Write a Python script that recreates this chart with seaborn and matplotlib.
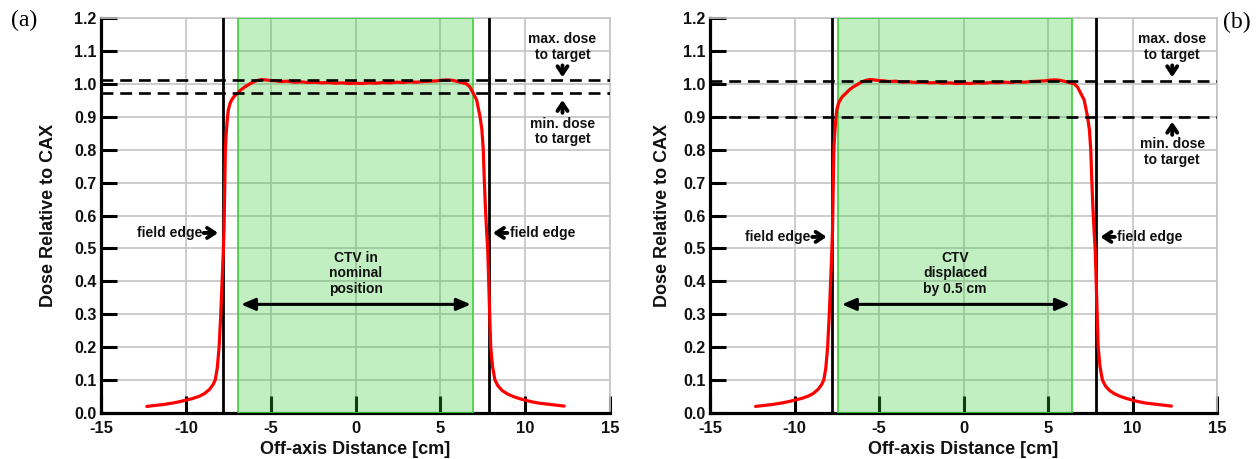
import matplotlib
matplotlib.use("Agg")
import matplotlib.pyplot as plt
import numpy as np
import pandas as pd
import seaborn as sns

# Measured dose profile (off-axis position in cm, dose relative to CAX)
position_cm = [-12.3, -11.8, -11.3, -10.8, -10.4, -10.0, -9.6, -9.2, -8.9, -8.6,
               -8.4, -8.27, -8.15, -8.04, -7.95, -7.87, -7.8, -7.75, -7.71, -7.67,
               -7.62, -7.56, -7.5, -7.4, -7.3, -7.15, -6.96, -6.75, -6.51, -6.25,
               -6.02, -5.8, -5.55, -5.3, -5.0, -4.7, -4.4, -4.0, -3.6, -3.2,
               -2.8, -2.4, -2.0, -1.6, -1.2, -0.8, -0.4, 0.0, 0.4, 0.8,
               1.2, 1.6, 2.0, 2.4, 2.8, 3.2, 3.6, 4.0, 4.4, 4.8,
               5.1, 5.4, 5.67, 5.95, 6.25, 6.55, 6.75, 6.94, 7.14, 7.34,
               7.45, 7.53, 7.59, 7.66, 7.73, 7.79, 7.84, 7.89, 7.97, 8.08,
               8.22, 8.4, 8.65, 8.95, 9.3, 9.65, 10.0, 10.4, 10.8, 11.3,
               11.8, 12.3]
relative_dose = [0.020, 0.023, 0.026, 0.030, 0.034, 0.039, 0.044, 0.051, 0.059, 0.072,
                 0.086, 0.100, 0.135, 0.200, 0.290, 0.390, 0.480, 0.555, 0.680, 0.800,
                 0.850, 0.890, 0.920, 0.940, 0.951, 0.962, 0.971, 0.982, 0.991, 0.999,
                 1.006, 1.010, 1.013, 1.012, 1.010, 1.009, 1.007, 1.008, 1.005, 1.006,
                 1.004, 1.005, 1.003, 1.004, 1.002, 1.003, 1.001, 1.002, 1.001, 1.003,
                 1.002, 1.004, 1.003, 1.005, 1.004, 1.006, 1.005, 1.007, 1.008, 1.009,
                 1.011, 1.012, 1.011, 1.008, 1.004, 1.000, 0.990, 0.971, 0.951, 0.900,
                 0.860, 0.800, 0.710, 0.620, 0.550, 0.500, 0.420, 0.330, 0.200, 0.140,
                 0.100, 0.082, 0.068, 0.058, 0.050, 0.044, 0.039, 0.034, 0.030, 0.027,
                 0.024, 0.021]

field_edges_cm = [-7.78, 7.86]
ctv_extent_a = [-6.9, 6.9]
ctv_extent_b = [-7.4, 6.4]
max_dose_a, min_dose_a = 1.012, 0.973
max_dose_b, min_dose_b = 1.010, 0.900
ctv_labels = ["CTV in\nnominal\nposition", "CTV\ndisplaced\nby 0.5 cm"]
panel_tags = ["(a)", "(b)"]
x_ticks = [-15, -10, -5, 0, 5, 10, 15]
y_ticks = [0.0, 0.1, 0.2, 0.3, 0.4, 0.5, 0.6, 0.7, 0.8, 0.9, 1.0, 1.1, 1.2]

profile = pd.DataFrame({"pos": position_cm, "dose": relative_dose})

sns.set_theme(style="white")
plt.rcParams["font.family"] = ["Liberation Sans", "DejaVu Sans"]
plt.rcParams["font.weight"] = "bold"

W, H = 1257, 459
fig = plt.figure(figsize=(W / 100, H / 100), dpi=100)
ax_a = fig.add_axes([101 / W, 46 / H, 509 / W, 395 / H])
ax_b = fig.add_axes([710 / W, 46 / H, 507 / W, 395 / H])

GRID = "#c4c4c4"
TXT = "#111111"

panels = [
    dict(ax=ax_a, ctv=ctv_extent_a, dmax=max_dose_a, dmin=min_dose_a, label=ctv_labels[0],
         fe_y=0.547, note_x=12.2, min_arrow=(0.951, 0.912), min_text=(0.878, 0.831),
         ctv_arrow=(-6.75, 6.8), ylab_x=-0.087),
    dict(ax=ax_b, ctv=ctv_extent_b, dmax=max_dose_b, dmin=min_dose_b, label=ctv_labels[1],
         fe_y=0.535, note_x=12.35, min_arrow=(0.885, 0.845), min_text=(0.817, 0.769),
         ctv_arrow=(-7.2, 6.3), ylab_x=-0.076),
]

arrow_open = dict(arrowstyle="->,head_length=0.45,head_width=0.3", lw=2.8,
                  color="black", shrinkA=0, shrinkB=0)

for p in panels:
    ax = p["ax"]
    ax.set_xlim(-15, 15)
    ax.set_ylim(0, 1.2)
    ax.set_axisbelow(True)
    ax.grid(True, color=GRID, lw=1.2)
    ax.set_xticks(x_ticks)
    ax.set_yticks(y_ticks)
    ax.set_xticklabels([str(t) for t in x_ticks])
    ax.set_yticklabels([f"{t:.1f}" for t in y_ticks])
    ax.tick_params(axis="both", direction="in", color="black", width=2.2,
                   labelcolor=TXT, bottom=True, left=True, top=False, right=False)
    ax.tick_params(axis="y", length=11.5, pad=3, labelsize=11.5)
    ax.tick_params(axis="x", length=12, pad=6, labelsize=12)
    for side in ("left", "bottom"):
        ax.spines[side].set_color("black")
        ax.spines[side].set_linewidth(2.3)
    for side in ("top", "right"):
        ax.spines[side].set_color(GRID)
        ax.spines[side].set_linewidth(1.2)

    # target volume (CTV)
    ax.axvspan(p["ctv"][0], p["ctv"][1], facecolor=(0.2, 0.8, 0.2, 0.3),
               edgecolor="#3ccf3c", lw=1.2, zorder=3)

    # field edges
    for fe in field_edges_cm:
        ax.axvline(fe, color="black", lw=2.0, zorder=4)

    # dose profile
    sns.lineplot(data=profile, x="pos", y="dose", ax=ax, color="red", lw=2.3,
                 zorder=5, sort=False, estimator=None)

    # max / min dose to target
    dash = dict(color="black", lw=1.9, dashes=(4.5, 2.6), zorder=6)
    ax.axhline(p["dmax"], **dash)
    ax.axhline(p["dmin"], **dash)

    ax.set_xlabel("Off-axis Distance [cm]", fontsize=13, fontweight="bold", color=TXT)
    ax.set_ylabel("Dose Relative to CAX", fontsize=13, fontweight="bold", color=TXT)
    ax.xaxis.set_label_coords(0.5, -0.07)
    ax.yaxis.set_label_coords(p["ylab_x"], 0.5)

    fs = 10
    nx = p["note_x"]
    ax.text(nx, 1.136, "max. dose", ha="center", va="center", fontsize=fs,
            fontweight="bold", color=TXT, zorder=7)
    ax.text(nx, 1.089, "to target", ha="center", va="center", fontsize=fs,
            fontweight="bold", color=TXT, zorder=7)
    ax.annotate("", xy=(nx, 1.02), xytext=(nx, 1.056), arrowprops=arrow_open, zorder=7)
    tip, tail = p["min_arrow"]
    ax.annotate("", xy=(nx, tip), xytext=(nx, tail), arrowprops=arrow_open, zorder=7)
    ax.text(nx, p["min_text"][0], "min. dose", ha="center", va="center", fontsize=fs,
            fontweight="bold", color=TXT, zorder=7)
    ax.text(nx, p["min_text"][1], "to target", ha="center", va="center", fontsize=fs,
            fontweight="bold", color=TXT, zorder=7)

    # field edge labels
    fy = p["fe_y"]
    ax.text(-9.05, fy, "field edge", ha="right", va="center", fontsize=fs,
            fontweight="bold", color=TXT, zorder=7)
    ax.annotate("", xy=(-8.1, fy), xytext=(-8.95, fy), arrowprops=arrow_open, zorder=7)
    ax.text(9.1, fy, "field edge", ha="left", va="center", fontsize=fs,
            fontweight="bold", color=TXT, zorder=7)
    ax.annotate("", xy=(8.1, fy), xytext=(8.95, fy), arrowprops=arrow_open, zorder=7)

    # CTV label with extent arrow
    cx = 0.5 * (p["ctv"][0] + p["ctv"][1])
    ax.text(cx, 0.424, p["label"], ha="center", va="center", fontsize=fs,
            fontweight="bold", color=TXT, linespacing=1.1, zorder=7)
    ax.annotate("", xy=(p["ctv_arrow"][0], 0.33), xytext=(p["ctv_arrow"][1], 0.33),
                arrowprops=dict(arrowstyle="<|-|>,head_length=0.7,head_width=0.3",
                                lw=2.2, color="black", shrinkA=0, shrinkB=0),
                zorder=7)

fig.text(11 / W, 1 - 20 / H, panel_tags[0], ha="left", va="center", fontsize=17,
         family="Liberation Serif", fontweight="normal", color="black")
fig.text(1223 / W, 1 - 22 / H, panel_tags[1], ha="left", va="center", fontsize=17,
         family="Liberation Serif", fontweight="normal", color="black")

fig.savefig("out.png", dpi=100)
